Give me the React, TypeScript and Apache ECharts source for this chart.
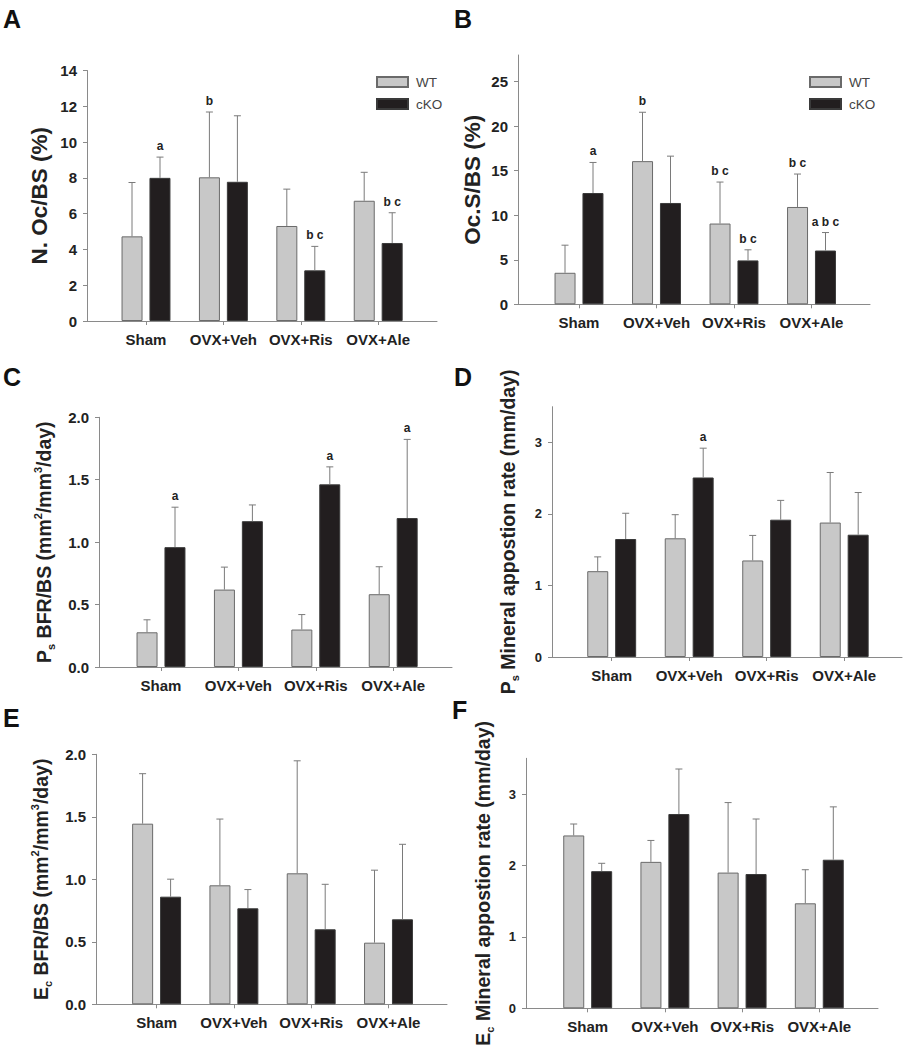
import React, { useEffect, useRef } from 'react';
import * as echarts from 'echarts';

const FONT = "'Liberation Sans', Arial, Helvetica, sans-serif";

const categories = ['Sham', 'OVX+Veh', 'OVX+Ris', 'OVX+Ale'];
const seriesNames = ['WT', 'cKO'];

// Panel A: N. Oc/BS (%)
const aWT = [4.73, 8.03, 5.31, 6.72];
const aWTsd = [3.01, 3.65, 2.06, 1.59];
const aKO = [8.0, 7.78, 2.83, 4.36];
const aKOsd = [1.16, 3.69, 1.34, 1.69];
const aWTsig = ['', 'b', '', ''];
const aKOsig = ['a', '', 'b c', 'b c'];
const aTicks = [0, 2, 4, 6, 8, 10, 12, 14];

// Panel B: Oc.S/BS (%)
const bWT = [3.54, 16.08, 9.07, 10.93];
const bWTsd = [3.1, 5.49, 4.66, 3.7];
const bKO = [12.5, 11.38, 4.93, 6.04];
const bKOsd = [3.43, 5.26, 1.19, 2.02];
const bWTsig = ['', 'b', 'b c', 'b c'];
const bKOsig = ['a', '', 'b c', 'a b c'];
const bTicks = [0, 5, 10, 15, 20, 25];

// Panel C: Ps BFR/BS
const cWT = [0.278, 0.62, 0.3, 0.583];
const cWTsd = [0.1, 0.18, 0.12, 0.22];
const cKO = [0.96, 1.168, 1.463, 1.193];
const cKOsd = [0.32, 0.13, 0.14, 0.63];
const cWTsig = ['', '', '', ''];
const cKOsig = ['a', '', 'a', 'a'];
const cTicks = [0, 0.5, 1.0, 1.5, 2.0];

// Panel D: Ps Mineral apposition rate
const dWT = [1.2, 1.66, 1.35, 1.88];
const dWTsd = [0.2, 0.33, 0.35, 0.7];
const dKO = [1.65, 2.51, 1.92, 1.71];
const dKOsd = [0.36, 0.41, 0.27, 0.59];
const dWTsig = ['', '', '', ''];
const dKOsig = ['', 'a', '', ''];
const dTicks = [0, 1, 2, 3];

// Panel E: Ec BFR/BS
const eWT = [1.445, 0.952, 1.048, 0.493];
const eWTsd = [0.4, 0.53, 0.9, 0.58];
const eKO = [0.861, 0.768, 0.6, 0.68];
const eKOsd = [0.14, 0.15, 0.36, 0.6];
const eWTsig = ['', '', '', ''];
const eKOsig = ['', '', '', ''];
const eTicks = [0, 0.5, 1.0, 1.5, 2.0];

// Panel F: Ec Mineral apposition rate
const fWT = [2.42, 2.05, 1.9, 1.47];
const fWTsd = [0.16, 0.3, 0.98, 0.47];
const fKO = [1.92, 2.72, 1.88, 2.08];
const fKOsd = [0.11, 0.63, 0.77, 0.74];
const fWTsig = ['', '', '', ''];
const fKOsig = ['', '', '', ''];
const fTicks = [0, 1, 2, 3];

const titleA = '{n|N. Oc/BS (%)}';
const titleB = '{n|Oc.S/BS (%)}';
const titleC = '{n|P}{sub|s}{n| BFR/BS (mm}{sup|2}{n|/mm}{sup|3}{n|/day)}';
const titleD = '{n|P}{sub|s}{n| Mineral appostion rate (mm/day)}';
const titleE = '{n|E}{sub|c}{n| BFR/BS (mm}{sup|2}{n|/mm}{sup|3}{n|/day)}';
const titleF = '{n|E}{sub|c}{n| Mineral appostion rate (mm/day)}';

type Panel = {
  letter: string;
  wt: number[]; wtSd: number[]; ko: number[]; koSd: number[];
  wtSig: string[]; koSig: string[];
  ticks: number[]; ymax: number; decimals: number; title: string;
  // layout
  axisX: number; xEnd: number; yTop: number; y0: number; first: number; spacing: number;
  tickFont: number; titleFont: number; nameGap: number; labelX: number; labelY: number; legend: boolean;
};

const panels: Panel[] = [
  { letter: 'A', wt: aWT, wtSd: aWTsd, ko: aKO, koSd: aKOsd, wtSig: aWTsig, koSig: aKOsig, ticks: aTicks, ymax: 14, decimals: 0, title: titleA,
    axisX: 87, xEnd: 437, yTop: 70.5, y0: 321, first: 146, spacing: 77.4, tickFont: 15, titleFont: 22.5, nameGap: 34, labelX: 3, labelY: 19, legend: true },
  { letter: 'B', wt: bWT, wtSd: bWTsd, ko: bKO, koSd: bKOsd, wtSig: bWTsig, koSig: bKOsig, ticks: bTicks, ymax: 28, decimals: 0, title: titleB,
    axisX: 518, xEnd: 870, yTop: 55, y0: 304.3, first: 579, spacing: 77.5, tickFont: 15, titleFont: 22.5, nameGap: 32, labelX: 454, labelY: 19, legend: true },
  { letter: 'C', wt: cWT, wtSd: cWTsd, ko: cKO, koSd: cKOsd, wtSig: cWTsig, koSig: cKOsig, ticks: cTicks, ymax: 2, decimals: 1, title: titleC,
    axisX: 99, xEnd: 452, yTop: 417.3, y0: 667, first: 161, spacing: 77.4, tickFont: 15, titleFont: 19.5, nameGap: 43, labelX: 3, labelY: 377, legend: false },
  { letter: 'D', wt: dWT, wtSd: dWTsd, ko: dKO, koSd: dKOsd, wtSig: dWTsig, koSig: dKOsig, ticks: dTicks, ymax: 3.5, decimals: 0, title: titleD,
    axisX: 552, xEnd: 902, yTop: 406.7, y0: 657, first: 611.7, spacing: 77.5, tickFont: 13, titleFont: 19.5, nameGap: 32, labelX: 454, labelY: 377, legend: false },
  { letter: 'E', wt: eWT, wtSd: eWTsd, ko: eKO, koSd: eKOsd, wtSig: eWTsig, koSig: eKOsig, ticks: eTicks, ymax: 2, decimals: 1, title: titleE,
    axisX: 96, xEnd: 447, yTop: 754.3, y0: 1004.3, first: 156.6, spacing: 77.3, tickFont: 15, titleFont: 19.5, nameGap: 43, labelX: 3, labelY: 718, legend: false },
  { letter: 'F', wt: fWT, wtSd: fWTsd, ko: fKO, koSd: fKOsd, wtSig: fWTsig, koSig: fKOsig, ticks: fTicks, ymax: 3.5, decimals: 0, title: titleF,
    axisX: 526, xEnd: 878, yTop: 758.3, y0: 1008.3, first: 587.7, spacing: 77.2, tickFont: 13, titleFont: 19.5, nameGap: 31, labelX: 452, labelY: 710, legend: false },
];

const AXIS_COLOR = '#8a8a8a';
const TEXT_COLOR = '#222';
const ERR_COLOR = '#7a7a7a';
const BAR_W = 21;
const HALF = 14;

function buildOption() {
  const grid: any[] = [];
  const xAxis: any[] = [];
  const yAxis: any[] = [];
  const series: any[] = [];
  const legend: any[] = [];
  const graphic: any[] = [];

  panels.forEach((p) => {
    const gridLeft = p.first - p.spacing / 2;
    const height = p.y0 - p.yTop;
    const gBar = grid.length;
    grid.push({ left: gridLeft, top: p.yTop, width: p.spacing * 4, height });
    const gLine = grid.length;
    grid.push({ left: p.axisX, top: p.yTop, width: p.xEnd - p.axisX, height });

    const xBar = xAxis.length;
    xAxis.push({
      type: 'category', gridIndex: gBar, data: categories,
      axisLine: { show: false },
      axisTick: { show: true, alignWithLabel: true, length: 4, lineStyle: { color: AXIS_COLOR } },
      axisLabel: { interval: 0, margin: 11, fontSize: 15, fontWeight: 'bold', fontFamily: FONT, color: TEXT_COLOR },
    });
    xAxis.push({
      type: 'value', gridIndex: gLine, min: 0, max: 1,
      axisLine: { show: true, lineStyle: { color: AXIS_COLOR, width: 1 } },
      axisTick: { show: false }, axisLabel: { show: false }, splitLine: { show: false },
    });

    const yBar = yAxis.length;
    const tf = p.titleFont;
    const lh = Math.round(tf * 1.25);
    yAxis.push({
      type: 'value', gridIndex: gBar, min: 0, max: p.ymax,
      offset: gridLeft - p.axisX,
      name: p.title, nameLocation: 'middle', nameRotate: 90, nameGap: p.nameGap,
      nameTextStyle: {
        fontFamily: FONT, fontWeight: 'bold', fontSize: tf, color: TEXT_COLOR,
        rich: {
          n: { fontFamily: FONT, fontWeight: 'bold', fontSize: tf, color: TEXT_COLOR, lineHeight: lh },
          sub: { fontFamily: FONT, fontWeight: 'bold', fontSize: 11, color: TEXT_COLOR, verticalAlign: 'bottom' },
          sup: { fontFamily: FONT, fontWeight: 'bold', fontSize: 11, color: TEXT_COLOR, verticalAlign: 'top' },
        },
      },
      axisLine: { show: true, lineStyle: { color: AXIS_COLOR, width: 1 } },
      axisTick: { show: true, length: 4, customValues: p.ticks, lineStyle: { color: AXIS_COLOR } },
      axisLabel: {
        customValues: p.ticks, margin: 10, fontSize: p.tickFont, fontWeight: 'bold', fontFamily: FONT, color: TEXT_COLOR,
        formatter: (v: number) => v.toFixed(p.decimals),
      },
      splitLine: { show: false },
    });
    yAxis.push({ type: 'value', gridIndex: gLine, min: 0, max: 1, show: false });

    const groups = [
      { name: seriesNames[0], mean: p.wt, sd: p.wtSd, sig: p.wtSig, side: -1, color: '#c8c8c8', border: '#6a6a6a' },
      { name: seriesNames[1], mean: p.ko, sd: p.koSd, sig: p.koSig, side: 1, color: '#221e1f', border: '#3a3a3a' },
    ];
    groups.forEach((g) => {
      series.push({
        type: 'bar', name: g.name, xAxisIndex: xBar, yAxisIndex: yBar,
        barWidth: BAR_W, barGap: '33%',
        itemStyle: { color: g.color, borderColor: g.border, borderWidth: 1 },
        data: g.mean,
      });
    });
    groups.forEach((g) => {
      series.push({
        type: 'custom', name: g.name + ' err', xAxisIndex: xBar, yAxisIndex: yBar, z: 5,
        data: g.mean.map((m, k) => [k, m, g.sd[k]]),
        renderItem: (params: any, api: any) => {
          const c = api.value(0);
          const m = api.value(1);
          const sd = api.value(2);
          const p0 = api.coord([c, m]);
          const p1 = api.coord([c, m + sd]);
          const x = p0[0] + g.side * HALF;
          const children: any[] = [
            { type: 'line', shape: { x1: x, y1: p0[1], x2: x, y2: p1[1] }, style: { stroke: ERR_COLOR, lineWidth: 1 } },
            { type: 'line', shape: { x1: x - 3.5, y1: p1[1], x2: x + 3.5, y2: p1[1] }, style: { stroke: ERR_COLOR, lineWidth: 1 } },
          ];
          const s = g.sig[params.dataIndex];
          if (s) {
            children.push({
              type: 'text', x: x, y: p1[1] - 5,
              style: { text: s, align: 'center', verticalAlign: 'bottom', fontFamily: FONT, fontWeight: 'bold', fontSize: 12, fill: TEXT_COLOR },
            });
          }
          return { type: 'group', children };
        },
      });
    });

    if (p.legend) {
      legend.push({
        data: seriesNames, orient: 'vertical', left: p.xEnd - 61, top: 75, padding: 0,
        itemWidth: 31, itemHeight: 10, itemGap: 8, icon: 'rect', selectedMode: false,
        textStyle: { fontFamily: FONT, fontSize: 13.5, color: '#444', padding: [0, 0, 0, 3] },
      });
    }

    graphic.push({
      type: 'text', left: p.labelX, top: p.labelY - 13,
      style: { text: p.letter, fontFamily: FONT, fontWeight: 'bold', fontSize: 25, fill: '#111' },
    });
  });

  return { animation: false, backgroundColor: '#fff', grid, xAxis, yAxis, series, legend, graphic };
}

export default function App() {
  const ref = useRef<HTMLDivElement>(null);
  useEffect(() => {
    document.body.style.margin = '0';
    const chart = echarts.init(ref.current!, undefined, { renderer: 'svg' });
    chart.setOption(buildOption() as any);
    return () => chart.dispose();
  }, []);
  return <div ref={ref} style={{ width: 910, height: 1050 }} />;
}
